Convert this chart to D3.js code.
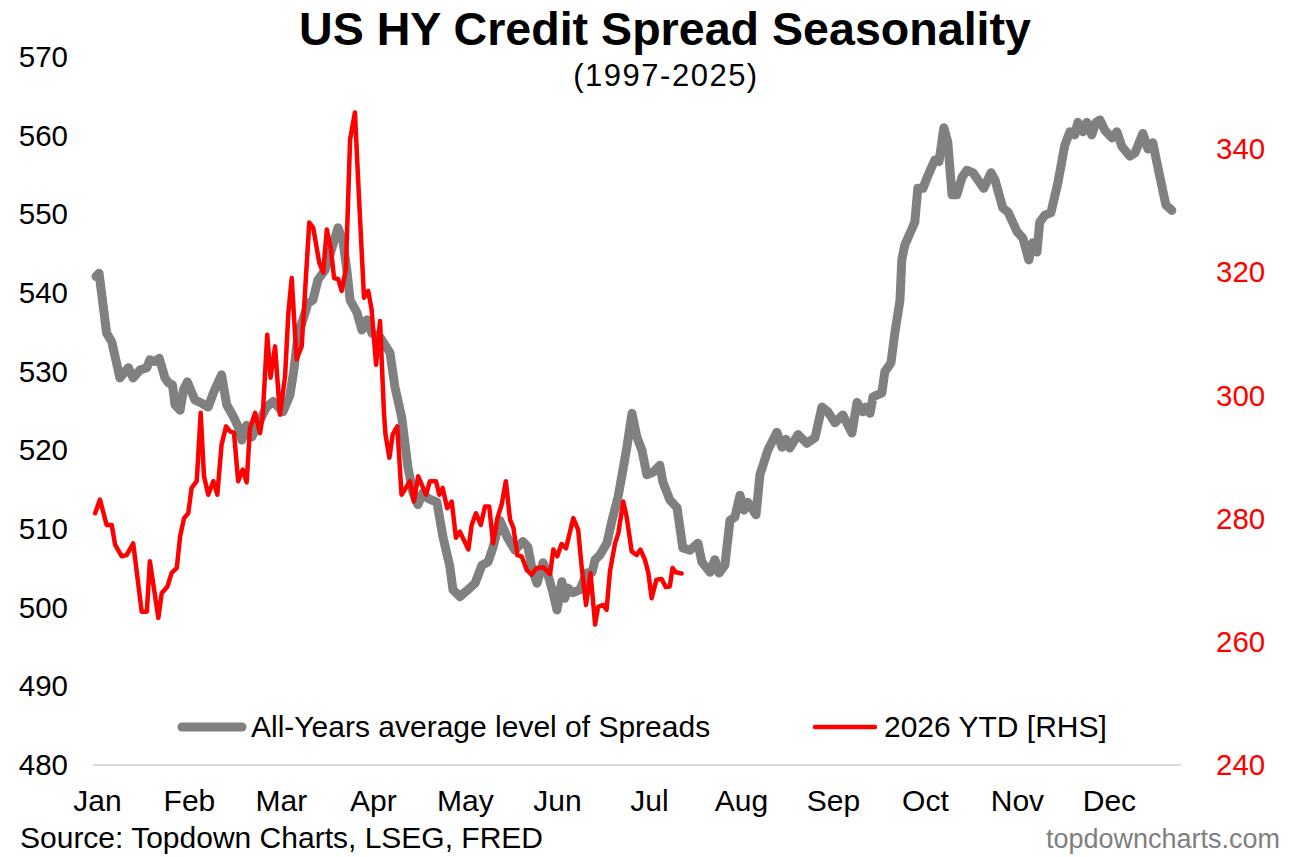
<!DOCTYPE html>
<html>
<head>
<meta charset="utf-8">
<script src="https://cdn.jsdelivr.net/npm/d3@7"></script>
<style>
  body { margin: 0; background: #fff; }
  svg { display: block; font-family: "Liberation Sans", Arial, sans-serif; }
</style>
</head>
<body>
<div id="content"></div>
<script>
// All-years average HY spread, [day of year, bp] (left axis)
var avgSeries = [
  [1,542.1],[2,542.5],[4.5,534.9],[6.2,533.8],[8.9,529.2],[11.7,530.5],[13.3,529.2],[15.5,530.2],[17.8,530.5],[18.8,531.5],
  [20.5,531.3],[21.9,531.7],[23.8,529.2],[24.9,528.6],[26.3,528.3],[27.1,525.8],[28.8,525.1],[29.9,527.7],[31.2,528.7],[33.7,526.4],
  [35.9,526.0],[38.1,525.5],[39.8,527.3],[42.5,529.6],[44.2,525.8],[46.4,524.3],[48,523.0],[49.2,521.3],[50.8,523.2],[52.5,521.7],
  [54.1,523.0],[57.4,525.5],[59.6,526.2],[62.8,524.9],[65.1,527.0],[66.4,530.2],[67.8,534.7],[69.4,536.6],[71.1,538.7],[72.7,539.1],
  [74.4,541.7],[76.7,542.9],[79,545.7],[81,548.3],[82.6,546.7],[84,542.7],[85,539.1],[87.3,537.5],[88.9,535.3],[90.6,536.6],
  [92.2,534.9],[94.9,534.4],[98.2,532.4],[99.8,528.1],[102.1,524.1],[104.1,517.9],[105.8,514.6],[107.4,513.1],[109.1,514.6],[110.7,513.9],
  [113.7,513.4],[115.7,509.0],[118,505.2],[119,502.3],[121.3,501.4],[124,502.3],[126.3,503.1],[128.6,505.4],[130.6,505.8],[132.2,507.6],
  [134.5,511.1],[136.9,509.0],[139.5,507.3],[142.1,508.4],[143.8,507.7],[145.1,505.0],[146.8,503.1],[148.8,505.7],[150.4,504.2],[152.1,501.9],
  [153.4,499.7],[155,503.3],[156,501.2],[157,502.5],[158.7,501.9],[161,502.3],[163.3,504.4],[165,504.5],[166,506.1],[167.6,506.7],
  [169.9,508.2],[171.6,511.1],[173.6,514.1],[175.2,517.5],[176.5,520.4],[178.2,524.7],[179.8,521.7],[181.5,520.0],[183.1,516.9],[185.1,517.2],
  [187.4,518.1],[188.4,516.0],[190.7,513.7],[193.1,512.7],[195,507.6],[197.4,507.3],[200,508.2],[201.3,505.8],[204,504.5],[205.6,506.1],
  [207,504.4],[208.9,505.4],[210.6,511.1],[212.2,511.5],[213.9,514.3],[215.2,512.4],[216.5,513.4],[219.2,511.8],[220.5,516.9],[223.1,520.0],
  [226.1,522.3],[227.8,520.4],[229.1,521.4],[230.4,520.3],[233.1,522.0],[236,520.9],[238.7,521.6],[241,525.5],[243,524.9],[245.3,523.5],
  [247.9,524.5],[250.9,522.2],[252.6,526.1],[254.5,524.9],[255.5,525.5],[256.9,524.7],[257.9,526.8],[260.8,527.3],[261.8,530.0],[263.8,531.1],
  [265.1,534.9],[266.8,539.1],[267.4,544.2],[268.4,546.1],[271.7,549.0],[272.7,553.3],[274.4,553.3],[275.7,554.6],[278.3,556.9],[279.7,556.7],
  [281.3,561.0],[282.6,559.2],[284,552.5],[285.6,552.5],[287.3,554.7],[288.9,555.6],[290.9,555.3],[294.5,553.3],[296.9,555.3],[298.2,554.4],
  [300.8,550.8],[302.5,550.3],[305.5,547.8],[307.4,547.0],[309.4,544.2],[310.7,546.4],[312.1,545.2],[313,549.0],[314.7,549.9],[316.7,550.2],
  [319,554.0],[321.3,558.8],[323,560.5],[324.6,560.1],[325.6,561.7],[327.3,560.5],[328.6,561.7],[330.2,560.1],[331.6,561.7],[332.9,562.0],
  [334.5,560.7],[336.9,559.7],[338.5,560.5],[340.2,558.6],[342.8,557.4],[344.5,557.8],[347.1,560.3],[348.8,558.3],[350.4,559.1],[352.1,555.9],
  [354.7,551.2],[356.7,550.5]
];

// 2026 YTD spread, [day of year, bp] (right axis)
var ytdSeries = [
  [0.7,280.9],[2.3,283.1],[4.5,279.0],[6.2,279.0],[7.3,275.8],[9.5,273.9],[11.1,274.1],[13.3,276.0],[16.1,264.9],[17.8,264.9],
  [18.8,273.1],[21.6,263.9],[22.7,267.9],[24.6,269.0],[26.0,271.2],[27.7,272.0],[28.8,277.1],[30.1,280.1],[31.5,280.9],[32.6,285.0],
  [34.3,286.1],[35.6,297.2],[36.7,286.9],[38.1,283.9],[39.8,286.1],[41.1,283.9],[42.5,292.0],[44.0,295.0],[45.3,294.2],[46.6,294.0],
  [48.0,286.1],[49.5,288.0],[50.8,285.9],[51.9,294.7],[53.6,297.2],[55.2,293.9],[56.1,296.6],[57.6,309.9],[58.7,302.9],[60.2,308.0],
  [61.8,296.9],[63.5,303.1],[64.6,313.5],[65.7,319.1],[67.3,305.9],[69.0,308.0],[71.5,328.1],[72.8,327.3],[74.8,321.6],[76.1,320.0],
  [77.3,327.0],[78.6,324.0],[79.7,319.1],[81.1,318.9],[82.2,317.0],[83.6,320.5],[85.0,341.6],[86.6,346.0],[87.7,334.6],[88.8,323.7],
  [89.6,315.9],[91.0,317.0],[92.1,314.0],[93.6,305.0],[94.9,312.1],[96.2,297.2],[96.7,293.7],[98.0,289.9],[99.1,293.7],[100.6,295.0],
  [102.0,283.9],[104.8,286.1],[106.1,282.8],[107.5,286.9],[110.1,283.9],[111.4,286.1],[113.4,286.1],[114.5,283.9],[115.6,285.0],[117.1,281.7],
  [118.6,282.8],[120.0,276.9],[121.3,277.9],[124.1,275.0],[125.2,279.0],[126.6,280.9],[128.2,279.0],[129.6,282.0],[131.0,282.0],[132.3,276.0],
  [133.7,280.1],[135.1,282.3],[136.5,286.1],[137.9,279.8],[139.0,278.5],[140.3,274.1],[141.7,273.9],[143.4,271.7],[145.0,270.9],[146.7,272.0],
  [148.9,272.1],[151.1,271.0],[152.2,275.0],[153.5,273.9],[154.9,275.9],[156.4,275.2],[157.7,277.9],[158.8,280.1],[160.4,278.2],[161.5,272.5],
  [163.0,266.0],[164.5,271.2],[166.0,262.8],[167.0,265.7],[168.7,266.0],[169.8,265.2],[170.9,271.4],[172.6,276.0],[173.7,277.7],[175.3,282.8],
  [176.4,280.4],[178.1,274.7],[179.7,274.1],[181.0,275.0],[182.5,273.3],[183.6,271.2],[184.7,267.1],[186.3,270.1],[188.0,270.2],[189.4,268.9],
  [190.7,269.0],[191.6,272.0],[192.7,271.3],[194.6,271.1]
];

var months = ['Jan', 'Feb', 'Mar', 'Apr', 'May', 'Jun', 'Jul', 'Aug', 'Sep', 'Oct', 'Nov', 'Dec'];
var leftTicks = [480, 490, 500, 510, 520, 530, 540, 550, 560, 570];
var rightTicks = [240, 260, 280, 300, 320, 340];

var W = 1295, H = 857;
var FONT = '"Liberation Sans", Arial, sans-serif';
var svg = d3.select('#content').append('svg')
    .attr('width', W)
    .attr('height', H);

var x = d3.scaleLinear().domain([0, 365]).range([93, 1197]);
var yL = d3.scaleLinear().domain([480, 570]).range([765, 57]);
var yR = d3.scaleLinear().domain([240, 355]).range([765, 57]);

// title
svg.append('text')
    .attr('x', 665).attr('y', 45)
    .attr('text-anchor', 'middle')
    .style('font-size', '46.6px').style('font-weight', 'bold')
    .text('US HY Credit Spread Seasonality');
svg.append('text')
    .attr('x', 666).attr('y', 86)
    .attr('text-anchor', 'middle')
    .style('font-size', '31px')
    .style('letter-spacing', '1.5px')
    .text('(1997-2025)');

// left axis
var gl = svg.append('g')
    .attr('transform', 'translate(93,0)')
    .call(d3.axisLeft(yL).tickValues(leftTicks).tickSize(0).tickPadding(25));
gl.select('.domain').remove();
gl.selectAll('text').style('font-size', '29.5px').style('font-family', FONT).attr('fill', '#000');

// right axis
var gr = svg.append('g')
    .attr('transform', 'translate(1181,0)')
    .call(d3.axisRight(yR).tickValues(rightTicks).tickSize(0).tickPadding(35));
gr.select('.domain').remove();
gr.selectAll('text').style('font-size', '29.5px').style('font-family', FONT).attr('fill', '#ff0000');

// bottom axis line and month labels
svg.append('line')
    .attr('x1', 93).attr('x2', 1181)
    .attr('y1', 765).attr('y2', 765)
    .attr('stroke', '#d9d9d9').attr('stroke-width', 2);

var monthPos = months.map(function(m, i) { return i * 365 / 12 + 1.3; });
var gb = svg.append('g')
    .attr('transform', 'translate(0,765)')
    .call(d3.axisBottom(x).tickValues(monthPos)
        .tickFormat(function(d, i) { return months[i]; })
        .tickSize(0).tickPadding(25));
gb.select('.domain').remove();
gb.selectAll('text').style('font-size', '30px').style('font-family', FONT).attr('fill', '#000');

// series
var lineL = d3.line()
    .x(function(d) { return x(d[0]); })
    .y(function(d) { return yL(d[1]); });
var lineR = d3.line()
    .x(function(d) { return x(d[0]); })
    .y(function(d) { return yR(d[1]); });

svg.append('path')
    .datum(avgSeries)
    .attr('d', lineL)
    .attr('fill', 'none')
    .attr('stroke', '#808080')
    .attr('stroke-width', 9)
    .attr('stroke-linejoin', 'round')
    .attr('stroke-linecap', 'round');

svg.append('path')
    .datum(ytdSeries)
    .attr('d', lineR)
    .attr('fill', 'none')
    .attr('stroke', '#ff0000')
    .attr('stroke-width', 4.5)
    .attr('stroke-linejoin', 'round')
    .attr('stroke-linecap', 'round');

// legend
var legend = [
  { label: 'All-Years average level of Spreads', color: '#808080', width: 9, x: 182 },
  { label: '2026 YTD [RHS]', color: '#ff0000', width: 4.5, x: 815 }
];
legend.forEach(function(l) {
    svg.append('line')
        .attr('x1', l.x).attr('x2', l.x + 60)
        .attr('y1', 727).attr('y2', 727)
        .attr('stroke', l.color).attr('stroke-width', l.width)
        .attr('stroke-linecap', 'round');
    svg.append('text')
        .attr('x', l.x + 69).attr('y', 737)
        .style('font-size', '30px')
        .text(l.label);
});

// footer
svg.append('text')
    .attr('x', 20).attr('y', 848)
    .style('font-size', '30px')
    .text('Source: Topdown Charts, LSEG, FRED');
svg.append('text')
    .attr('x', 1280).attr('y', 848)
    .attr('text-anchor', 'end')
    .style('font-size', '27px')
    .attr('fill', '#7f7f7f')
    .text('topdowncharts.com');
</script>
</body>
</html>
